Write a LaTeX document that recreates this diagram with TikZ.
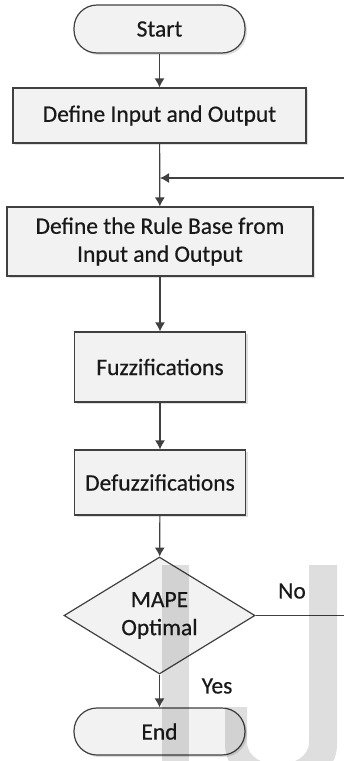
\documentclass[tikz,border=0pt]{standalone}
\usepackage{fontspec}
\setmainfont{Carlito}
\newfontfamily\flowfont{Carlito}[FakeBold=0.5]
\usetikzlibrary{arrows.meta,shapes.geometric,shadows}

\tikzset{
  line/.style={draw=black!75, line width=1.2pt},
  flow/.style={line, -{Latex[length=9pt,width=10pt]}},
  box/.style={line, fill=black!5, drop shadow={shadow xshift=2pt, shadow yshift=-2pt, fill=black!25},
    align=center, inner sep=0pt},
  term/.style={box, rounded corners=23pt, minimum width=171pt},
  decide/.style={line, fill=black!5, shape=diamond, aspect=1.63, minimum width=191pt,
    minimum height=117pt, inner sep=0pt, align=center}
}

\begin{document}
\begin{tikzpicture}[x=1pt, y=-1pt, font=\flowfont\fontsize{23.5}{28}\selectfont, text=black!90]
\useasboundingbox (0,0) rectangle (344,761);

\node[term, minimum height=48pt] (start) at (159.5,29) {Start};
\node[box, minimum width=293pt, minimum height=55pt] (input) at (159.5,115.5) {Define Input and Output};
\node[box, minimum width=306pt, minimum height=69pt] (rules) at (160,241.5) {Define the Rule Base from\\Input and Output};
\node[box, minimum width=171pt, minimum height=70pt] (fuzz) at (160,367) {Fuzzifications};
\node[box, minimum width=171pt, minimum height=65pt] (defuzz) at (160,482.5) {Defuzzifications};
\node[decide] (mape) at (159.5,615.5) {MAPE\\Optimal};
\node[term, minimum height=47pt] (end) at (159.5,731.5) {End};

\coordinate (join) at (160,178);
\coordinate (back) at (360,178);

\node (no) at (292,591) {No};
\node (yes) at (217,686) {Yes};

\draw[flow] (start) -- (input);
\draw[flow] (input) -- (rules);
\draw[flow] (rules) -- (fuzz);
\draw[flow] (fuzz) -- (defuzz);
\draw[flow] (defuzz) -- (mape);
\draw[flow] (mape) -- (end);
% loop back from "No" to above the rule base
\draw[flow] (mape.east) -| (back) -- (join);

% faint letter laid over the bottom
\fill[black, opacity=0.13] (162,565) rectangle (189,770);
\fill[black, opacity=0.13] (309,565) -- (337,565) -- (337,745)
  .. controls (337,800) and (225,800) .. (225,745) -- (225,707) -- (247,707) -- (247,742)
  .. controls (247,772) and (309,772) .. (309,742) -- cycle;
\end{tikzpicture}
\end{document}
